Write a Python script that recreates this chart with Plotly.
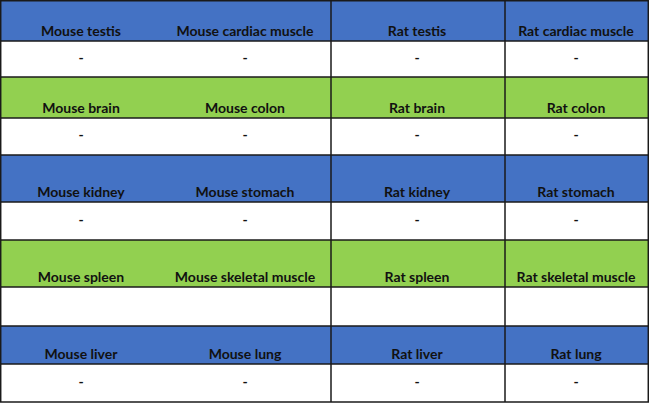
import plotly.graph_objects as go

labels = [
    ["Mouse testis", "Mouse cardiac muscle", "Rat testis", "Rat cardiac muscle"],
    ["Mouse brain", "Mouse colon", "Rat brain", "Rat colon"],
    ["Mouse kidney", "Mouse stomach", "Rat kidney", "Rat stomach"],
    ["Mouse spleen", "Mouse skeletal muscle", "Rat spleen", "Rat skeletal muscle"],
    ["Mouse liver", "Mouse lung", "Rat liver", "Rat lung"],
]
values = [
    ["-", "-", "-", "-"],
    ["-", "-", "-", "-"],
    ["-", "-", "-", "-"],
    ["", "", "", ""],
    ["-", "-", "-", "-"],
]
band_colors = ["#4472C4", "#92D050", "#4472C4", "#92D050", "#4472C4"]

# layout geometry (pixels)
col_centers = [81, 245, 417, 576]
row_edges = [0, 41, 77, 118, 155, 202, 240, 287, 326, 364, 402]

fig = go.Figure()
shapes = []
for i in range(5):
    y0, y1, y2 = row_edges[2 * i], row_edges[2 * i + 1], row_edges[2 * i + 2]
    shapes.append(dict(type="rect", x0=0, x1=649, y0=y0, y1=y1, fillcolor=band_colors[i],
                       line_width=0, layer="below"))
    shapes.append(dict(type="rect", x0=0, x1=649, y0=y1, y1=y2, fillcolor="white",
                       line_width=0, layer="below"))
    for y in (y1, y2):
        shapes.append(dict(type="line", x0=0, x1=649, y0=y, y1=y, line=dict(color="#1a1a1a", width=1.5)))
shapes.append(dict(type="line", x0=0, x1=649, y0=0.7, y1=0.7, line=dict(color="#1a1a1a", width=1.5)))
for x in (0.7, 331, 505, 648.3):
    shapes.append(dict(type="line", x0=x, x1=x, y0=0, y1=402, line=dict(color="#1a1a1a", width=1.5)))

xs, ys, ts = [], [], []
vx, vy, vt = [], [], []
for i in range(5):
    for j in range(4):
        xs.append(col_centers[j]); ys.append(row_edges[2 * i + 1] - 9); ts.append(labels[i][j])
        vx.append(col_centers[j]); vy.append((row_edges[2 * i + 1] + row_edges[2 * i + 2]) / 2); vt.append(values[i][j])

font = dict(family="Lato", size=14, color="#111111", weight="bold")
fig.add_trace(go.Scatter(x=xs, y=ys, text=ts, mode="text", textfont=font, hoverinfo="skip"))
fig.add_trace(go.Scatter(x=vx, y=vy, text=vt, mode="text", textfont=font, hoverinfo="skip"))

fig.update_layout(
    width=649, height=403, margin=dict(l=0, r=0, t=0, b=0),
    paper_bgcolor="white", plot_bgcolor="white", showlegend=False, shapes=shapes,
    xaxis=dict(range=[0, 649], visible=False, fixedrange=True),
    yaxis=dict(range=[403, 0], visible=False, fixedrange=True),
)
fig.write_html("out.html", config={"displayModeBar": False})

with open("out.html", encoding="utf-8") as f:
    html = f.read()
html = html.replace("<head>", "<head><style>html,body{margin:0;padding:0;overflow:hidden;}</style>", 1)
with open("out.html", "w", encoding="utf-8") as f:
    f.write(html)
